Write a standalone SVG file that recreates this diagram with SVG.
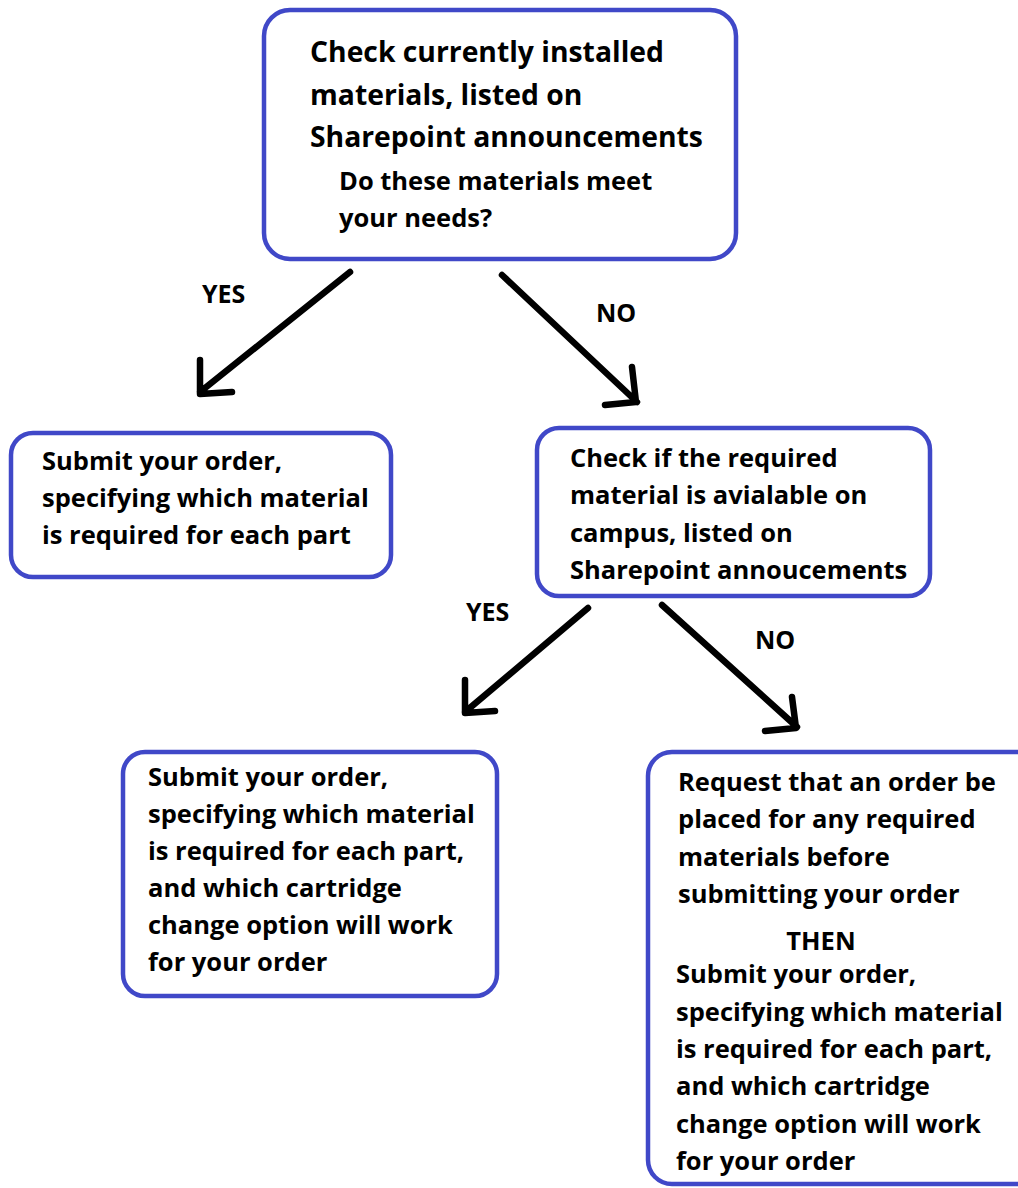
<svg xmlns="http://www.w3.org/2000/svg" width="1018" height="1188" viewBox="0 0 1018 1188">
<style>
.box{fill:#ffffff;stroke:#4048c8;stroke-width:4.5}
.t{font-family:"Open Sans",Lato,"Liberation Sans",sans-serif;font-weight:bold;fill:#000000}
.big{font-size:28.3px}
.mid{font-size:25.5px}
.lbl{font-size:25px}
.arr{fill:none;stroke:#000000;stroke-width:6.5;stroke-linecap:round;stroke-linejoin:round}
</style>
<rect x="0" y="0" width="1018" height="1188" fill="#ffffff"/>
<g id="n1">
<rect class="box" x="264" y="10" width="472" height="249" rx="26"/>
<text class="t big" x="310" y="62">Check currently installed</text>
<text class="t big" x="310" y="105">materials, listed on</text>
<text class="t big" x="310" y="147">Sharepoint announcements</text>
<text class="t mid" x="339" y="190">Do these materials meet</text>
<text class="t mid" x="339" y="227">your needs?</text>
</g>
<g id="n2">
<rect class="box" x="11" y="433" width="380" height="144" rx="22"/>
<text class="t mid" x="42" y="470">Submit your order,</text>
<text class="t mid" x="42" y="507">specifying which material</text>
<text class="t mid" x="42" y="544">is required for each part</text>
</g>
<g id="n3">
<rect class="box" x="537" y="428" width="393" height="168" rx="22"/>
<text class="t mid" x="570" y="467">Check if the required</text>
<text class="t mid" x="570" y="504">material is avialable on</text>
<text class="t mid" x="570" y="542">campus, listed on</text>
<text class="t mid" x="570" y="579">Sharepoint annoucements</text>
</g>
<g id="n4">
<rect class="box" x="123" y="752" width="374" height="244" rx="22"/>
<text class="t mid" x="148" y="786">Submit your order,</text>
<text class="t mid" x="148" y="823">specifying which material</text>
<text class="t mid" x="148" y="860">is required for each part,</text>
<text class="t mid" x="148" y="897">and which cartridge</text>
<text class="t mid" x="148" y="934">change option will work</text>
<text class="t mid" x="148" y="971">for your order</text>
</g>
<g id="n5">
<rect class="box" x="648" y="752" width="400" height="432" rx="24"/>
<text class="t mid" x="678" y="791">Request that an order be</text>
<text class="t mid" x="678" y="828">placed for any required</text>
<text class="t mid" x="678" y="866">materials before</text>
<text class="t mid" x="678" y="903">submitting your order</text>
<text class="t mid" x="821" y="950" text-anchor="middle">THEN</text>
<text class="t mid" x="676" y="983">Submit your order,</text>
<text class="t mid" x="676" y="1021">specifying which material</text>
<text class="t mid" x="676" y="1058">is required for each part,</text>
<text class="t mid" x="676" y="1095">and which cartridge</text>
<text class="t mid" x="676" y="1133">change option will work</text>
<text class="t mid" x="676" y="1170">for your order</text>
</g>
<g id="connectors">
<path class="arr" d="M350,272 L200,392 M200,360 L200,394 L232,392"/>
<path class="arr" d="M502,275 L637,402 M632,367 L636,402 L605,405"/>
<path class="arr" d="M588,608 L465,712 M465,680 L465,713 L495,711"/>
<path class="arr" d="M662,605 L797,727 M792,697 L796,728 L765,731"/>
<text class="t lbl" x="202" y="303">YES</text>
<text class="t lbl" x="596" y="322">NO</text>
<text class="t lbl" x="466" y="621">YES</text>
<text class="t lbl" x="755" y="649">NO</text>
</g>
</svg>
